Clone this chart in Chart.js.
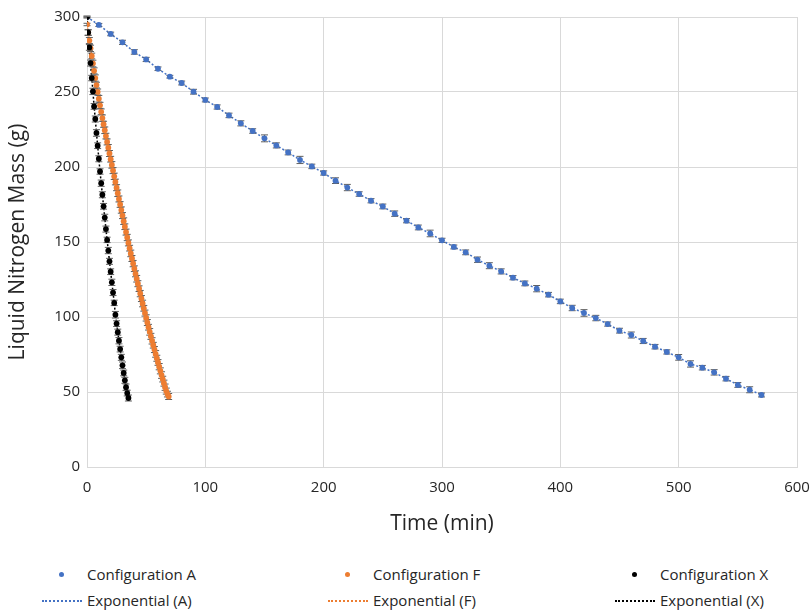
<!DOCTYPE html>
<html>
<head>
<meta charset="utf-8">
<script src="https://cdn.jsdelivr.net/npm/chart.js@4.4.0/dist/chart.umd.min.js"></script>
<style>
  html, body { margin: 0; padding: 0; background: #fff; }
  #wrap { position: relative; width: 811px; height: 614px; }
  #chart { position: absolute; left: 0; top: 0; }
  .leg { position: absolute; font-family: "Open Sans", sans-serif; font-size: 15px; color: #262626; line-height: 20px; white-space: nowrap; }
  .dot { position: absolute; width: 5px; height: 5px; border-radius: 50%; }
  .dash { position: absolute; width: 40px; height: 0; border-top: 2px dotted; }
</style>
</head>
<body>
<div id="wrap">
  <canvas id="chart" width="811" height="545"></canvas>
  <div id="legend"></div>
</div>
<script>
// ================= DATA =================
const timeA = [0, 10, 20, 30, 40, 50, 60, 70, 80, 90,
  100, 110, 120, 130, 140, 150, 160, 170, 180, 190,
  200, 210, 220, 230, 240, 250, 260, 270, 280, 290,
  300, 310, 320, 330, 340, 350, 360, 370, 380, 390,
  400, 410, 420, 430, 440, 450, 460, 470, 480, 490,
  500, 510, 520, 530, 540, 550, 560, 570];
const massA = [300, 294.7, 288.7, 283.1, 276.7, 271.7, 265.5, 260.2, 256.0, 250.2,
  244.7, 240.0, 234.4, 229.1, 224.0, 219.1, 214.4, 209.7, 204.7, 200.4,
  196.0, 190.9, 186.3, 182.0, 177.5, 173.7, 168.9, 164.2, 159.7, 155.7,
  151.1, 146.7, 143.1, 138.2, 134.2, 130.4, 126.2, 122.4, 118.9, 114.9,
  110.4, 106.0, 102.7, 99.3, 95.3, 90.9, 88.0, 84.0, 80.2, 76.7,
  73.1, 68.7, 66.2, 63.1, 58.9, 54.7, 51.5, 48.0];
const errA = [0.6, 1.0, 1.2, 1.4, 1.5, 1.4, 1.2, 0.9, 1.3, 1.6,
  1.3, 1.4, 1.5, 1.7, 1.5, 2.3, 1.7, 1.6, 2.4, 1.5,
  1.4, 1.9, 2.1, 1.5, 1.4, 1.6, 1.8, 1.4, 1.6, 2.2,
  1.4, 1.3, 1.6, 1.8, 2.0, 1.7, 1.4, 1.6, 2.1, 1.5,
  1.5, 1.8, 2.2, 1.8, 1.4, 1.6, 2.0, 1.7, 1.5, 1.4,
  1.9, 2.1, 1.5, 1.8, 1.5, 1.6, 2.0, 1.3];

const timeF = [0, 1, 2, 3, 4, 5, 6, 7, 8, 9,
  10, 11, 12, 13, 14, 15, 16, 17, 18, 19,
  20, 21, 22, 23, 24, 25, 26, 27, 28, 29,
  30, 31, 32, 33, 34, 35, 36, 37, 38, 39,
  40, 41, 42, 43, 44, 45, 46, 47, 48, 49,
  50, 51, 52, 53, 54, 55, 56, 57, 58, 59,
  60, 61, 62, 63, 64, 65, 66, 67, 68, 69];
const massF = [295.0, 289.6, 284.3, 279.1, 274.0, 269.0, 264.1, 259.3, 254.6, 250.0,
  245.5, 241.1, 236.8, 232.6, 228.5, 224.5, 220.6, 216.7, 212.9, 209.0,
  205.2, 201.4, 197.6, 193.8, 190.0, 186.2, 182.5, 178.7, 175.0, 171.3,
  167.6, 163.9, 160.2, 156.6, 153.0, 149.4, 145.9, 142.4, 139.0, 135.6,
  132.2, 128.8, 125.5, 122.2, 118.9, 115.6, 112.3, 109.0, 105.8, 102.6,
  99.4, 96.3, 93.2, 90.1, 87.1, 84.1, 81.2, 78.3, 75.4, 72.5,
  69.7, 66.9, 64.1, 61.3, 58.6, 55.9, 53.2, 50.6, 48.6, 47.0];
const errF = [0.8, 1.9, 2.0, 2.1, 1.9, 2.2, 2.0, 2.1, 1.9, 2.0,
  2.2, 2.0, 1.9, 2.1, 2.0, 2.2, 1.9, 2.0, 2.1, 2.0,
  1.9, 2.2, 2.0, 2.1, 1.9, 2.0, 2.2, 2.0, 1.9, 2.1,
  2.0, 2.2, 1.9, 2.0, 2.1, 2.0, 1.9, 2.2, 2.0, 2.1,
  1.9, 2.0, 2.2, 2.0, 1.9, 2.1, 2.0, 2.2, 1.9, 2.0,
  2.1, 2.0, 1.9, 2.2, 2.0, 2.1, 1.9, 2.0, 2.2, 2.0,
  1.9, 2.1, 2.0, 2.2, 1.9, 2.0, 2.1, 2.0, 1.9, 2.0];

const timeX = [0, 1, 2, 3, 4, 5, 6, 7, 8, 9,
  10, 11, 12, 13, 14, 15, 16, 17, 18, 19,
  20, 21, 22, 23, 24, 25, 26, 27, 28, 29,
  30, 31, 32, 33, 34, 35];
const massX = [300, 289.7, 279.7, 269.3, 259.3, 250.4, 240.4, 232.0, 222.7, 214.2,
  205.5, 197.0, 189.2, 181.5, 173.8, 166.3, 158.6, 151.4, 144.3, 137.1,
  130.2, 123.1, 116.3, 109.4, 101.5, 95.6, 89.9, 84.2, 78.6, 73.1,
  67.8, 62.7, 57.8, 53.2, 49.3, 46.0];
const errX = [0.5, 1.8, 1.9, 2.0, 1.8, 2.1, 1.9, 2.0, 2.2, 1.9,
  2.0, 1.8, 2.1, 2.0, 1.9, 2.2, 2.0, 1.8, 2.1, 2.0,
  1.9, 2.1, 2.0, 1.8, 2.2, 1.9, 2.0, 2.1, 1.9, 2.0,
  2.2, 1.9, 2.0, 2.1, 1.9, 2.0];

const xTicks = [0, 100, 200, 300, 400, 500, 600];
const yTicks = [0, 50, 100, 150, 200, 250, 300];

// ================= STYLE =================
const FONT = "'Open Sans', sans-serif";
const BLUE = "#4472C4";
const ORANGE = "#ED7D31";
const BLACK = "#000000";
const GRID = "#d9d9d9";

const toPoints = (t, m) => t.map((v, i) => ({ x: v, y: m[i] }));

// ================= ERROR BARS =================
const errorBars = {
  id: "errorBars",
  beforeDatasetDraw(chart, args) {
    const ds = chart.data.datasets[args.index];
    if (!ds.errors) return;
    const ctx = chart.ctx;
    const yScale = chart.scales.y;
    ctx.save();
    ctx.strokeStyle = "#5f5f5f";
    ctx.lineWidth = 1;
    args.meta.data.forEach((pt, i) => {
      const e = ds.errors[i];
      if (e == null) return;
      const v = ds.data[i].y;
      const top = yScale.getPixelForValue(v + e);
      const bot = yScale.getPixelForValue(v - e);
      ctx.beginPath();
      ctx.moveTo(pt.x, top);
      ctx.lineTo(pt.x, bot);
      ctx.moveTo(pt.x - 3.5, top);
      ctx.lineTo(pt.x + 3.5, top);
      ctx.moveTo(pt.x - 3.5, bot);
      ctx.lineTo(pt.x + 3.5, bot);
      ctx.stroke();
    });
    ctx.restore();
  }
};

function pointSet(label, t, m, err, color) {
  return {
    label, data: toPoints(t, m), errors: err,
    showLine: false, pointRadius: 2.9, pointHoverRadius: 2.9,
    pointBackgroundColor: color, pointBorderWidth: 0, borderColor: color
  };
}
function trendSet(label, t, m, color) {
  return {
    label, data: toPoints(t, m), showLine: true, pointRadius: 0,
    borderColor: color, borderWidth: 1.5, borderDash: [2, 2], fill: false
  };
}

// ================= CHART =================
new Chart(document.getElementById("chart"), {
  type: "scatter",
  data: {
    datasets: [
      pointSet("Configuration X", timeX, massX, errX, BLACK),
      pointSet("Configuration F", timeF, massF, errF, ORANGE),
      pointSet("Configuration A", timeA, massA, errA, BLUE),
      trendSet("Exponential (X)", timeX, massX, BLACK),
      trendSet("Exponential (F)", timeF, massF, ORANGE),
      trendSet("Exponential (A)", timeA, massA, BLUE)
    ]
  },
  options: {
    responsive: false,
    animation: false,
    layout: { autoPadding: false, padding: { top: 17, right: 14, left: 0, bottom: 0 } },
    plugins: { legend: { display: false }, tooltip: { enabled: false } },
    scales: {
      x: {
        type: "linear", min: 0, max: 600,
        afterBuildTicks: s => { s.ticks = xTicks.map(v => ({ value: v })); },
        afterFit: s => { s.height = 78; s.paddingLeft = 0; s.paddingRight = 0; },
        ticks: { font: { family: FONT, size: 15 }, color: "#262626", padding: 12, maxRotation: 0 },
        grid: { color: GRID, drawTicks: false },
        border: { color: GRID },
        title: { display: true, text: "Time (min)", font: { family: FONT, size: 21 }, color: "#262626", padding: { top: 0, bottom: 8 } }
      },
      y: {
        min: 0, max: 300,
        afterBuildTicks: s => { s.ticks = yTicks.map(v => ({ value: v })); },
        afterFit: s => { s.width = 87; s.paddingTop = 0; s.paddingBottom = 0; },
        ticks: { font: { family: FONT, size: 15 }, color: "#262626", padding: 7 },
        grid: { color: GRID, drawTicks: false },
        border: { color: GRID },
        title: { display: true, text: "Liquid Nitrogen Mass (g)", font: { family: FONT, size: 21 }, color: "#262626", padding: { top: 5, bottom: 0 } }
      }
    }
  },
  plugins: [errorBars]
});

// ================= LEGEND =================
const legendItems = [
  { text: "Configuration A", color: BLUE, kind: "dot", x: 87, y: 564 },
  { text: "Configuration F", color: ORANGE, kind: "dot", x: 373, y: 564 },
  { text: "Configuration X", color: BLACK, kind: "dot", x: 660, y: 564 },
  { text: "Exponential (A)", color: BLUE, kind: "dash", x: 87, y: 590 },
  { text: "Exponential (F)", color: ORANGE, kind: "dash", x: 373, y: 590 },
  { text: "Exponential (X)", color: BLACK, kind: "dash", x: 660, y: 590 }
];
const legend = document.getElementById("legend");
legendItems.forEach(it => {
  const label = document.createElement("div");
  label.className = "leg";
  label.style.left = it.x + "px";
  label.style.top = it.y + "px";
  label.textContent = it.text;
  legend.appendChild(label);

  const sym = document.createElement("div");
  sym.className = it.kind;
  if (it.kind === "dot") {
    sym.style.left = (it.x - 28) + "px";
    sym.style.top = (it.y + 8) + "px";
    sym.style.background = it.color;
  } else {
    sym.style.left = (it.x - 45) + "px";
    sym.style.top = (it.y + 10) + "px";
    sym.style.borderTopColor = it.color;
  }
  legend.appendChild(sym);
});
</script>
</body>
</html>
